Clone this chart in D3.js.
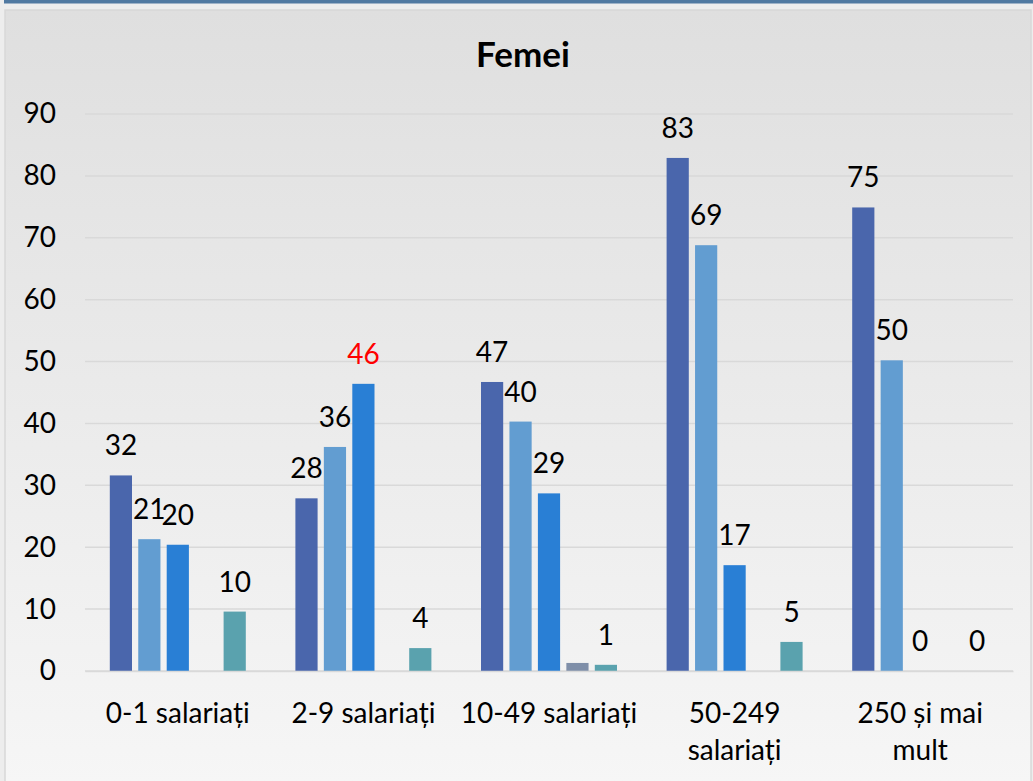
<!DOCTYPE html>
<html>
<head>
<meta charset="utf-8">
<script src="https://cdn.jsdelivr.net/npm/d3@7"></script>
<style>
  html, body { margin: 0; padding: 0; background: #ededed; }
  svg { display: block; font-family: Lato, "Open Sans", sans-serif; }
</style>
</head>
<body>
<div id="chart"></div>
<script>
// categories and series
const categories = ["0-1 salariați", "2-9 salariați", "10-49 salariați", "50-249 salariați", "250 și mai mult"];
const series1 = [31.6, 27.9, 46.7, 82.9, 74.9];
const series2 = [21.3, 36.2, 40.3, 68.8, 50.2];
const series3 = [20.4, 46.4, 28.7, 17.1, 0];
const series4 = [null, null, 1.3, null, null];
const series5 = [9.6, 3.7, 1.0, 4.7, 0];
const yTicks = [0, 10, 20, 30, 40, 50, 60, 70, 80, 90];

const seriesList = [series1, series2, series3, series4, series5];
const seriesColors = ["#4a66ac", "#629dd1", "#297fd5", "#7f8fa9", "#5aa2ae"];
const showLabels = [true, true, true, false, true];
const highlighted = { cat: 1, s: 2 }; // red label

const width = 1033, height = 781;
const margin = { top: 114, right: 20, bottom: 110, left: 85 };

const svg = d3.select("#chart").append("svg")
  .attr("width", width)
  .attr("height", height);

const defs = svg.append("defs");
const grad = defs.append("linearGradient")
  .attr("id", "bg")
  .attr("x1", 0).attr("y1", 0).attr("x2", 0).attr("y2", 1);
grad.append("stop").attr("offset", "0%").attr("stop-color", "#dfdfdf");
grad.append("stop").attr("offset", "100%").attr("stop-color", "#f6f6f6");

// background panel
svg.append("rect")
  .attr("x", 5).attr("y", 10)
  .attr("width", width - 7).attr("height", height - 8)
  .attr("fill", "url(#bg)")
  .attr("stroke", "#d8d8d8")
  .attr("stroke-width", 1.5);

svg.append("rect")
  .attr("x", 4).attr("y", 0)
  .attr("width", width - 4).attr("height", 3.5)
  .attr("fill", "#5079a1");

const x0 = d3.scaleBand()
  .domain(categories)
  .range([margin.left, width - margin.right]);

const outer = 24.8;
const x1 = d3.scaleBand()
  .domain(d3.range(seriesList.length))
  .range([outer, x0.bandwidth() - outer])
  .paddingInner(0.22);

const y = d3.scaleLinear()
  .domain([0, 90])
  .range([height - margin.bottom, margin.top]);

// gridlines
svg.append("g")
  .selectAll("line")
  .data(yTicks)
  .join("line")
  .attr("x1", margin.left)
  .attr("x2", width - margin.right)
  .attr("y1", d => y(d))
  .attr("y2", d => y(d))
  .attr("stroke", "#d9d9d9")
  .attr("stroke-width", 1.5);

// y axis labels
const yAxis = d3.axisLeft(y).tickValues(yTicks).tickSize(0).tickPadding(0);
svg.append("g")
  .attr("transform", "translate(56,0)")
  .call(yAxis)
  .call(g => g.select(".domain").remove())
  .selectAll("text")
  .attr("font-size", 28)
  .attr("font-family", "Lato, sans-serif")
  .attr("fill", "#000");

// bars
const rows = [];
categories.forEach((c, i) => {
  seriesList.forEach((s, j) => {
    if (s[i] !== null) rows.push({ cat: c, ci: i, s: j, v: s[i] });
  });
});

const groups = svg.append("g");
groups.selectAll("rect")
  .data(rows.filter(d => d.v > 0))
  .join("rect")
  .attr("x", d => x0(d.cat) + x1(d.s))
  .attr("width", x1.bandwidth())
  .attr("y", d => y(d.v))
  .attr("height", d => y(0) - y(d.v))
  .attr("fill", d => seriesColors[d.s]);

// data labels
const fmt = d3.format(".0f");
groups.selectAll("text")
  .data(rows.filter(d => showLabels[d.s]))
  .join("text")
  .attr("x", d => x0(d.cat) + x1(d.s) + x1.bandwidth() / 2)
  .attr("y", d => y(d.v) - 20)
  .attr("text-anchor", "middle")
  .attr("font-size", 28)
  .attr("fill", d => (d.ci === highlighted.cat && d.s === highlighted.s) ? "#ff0000" : "#000")
  .text(d => fmt(d.v));

// x axis
const xAxis = d3.axisBottom(x0).tickSize(0).tickPadding(0);
const xg = svg.append("g")
  .attr("transform", `translate(0,${y(0)})`)
  .call(xAxis);
xg.select(".domain").attr("stroke", "#d9d9d9").attr("stroke-width", 1.5);
xg.selectAll("text")
  .attr("font-size", 28)
  .attr("font-family", "Lato, sans-serif")
  .attr("fill", "#000")
  .attr("y", 52)
  .attr("dy", 0)
  .each(function () { wrap(d3.select(this), x0.bandwidth()); });

function wrap(text, w) {
  const words = text.text().split(/\s+/);
  const yy = text.attr("y");
  text.text(null);
  let line = [];
  let lineNo = 0;
  let tspan = text.append("tspan").attr("x", 0).attr("y", yy);
  words.forEach(word => {
    line.push(word);
    tspan.text(line.join(" "));
    if (tspan.node().getComputedTextLength() > w - 6 && line.length > 1) {
      line.pop();
      tspan.text(line.join(" "));
      line = [word];
      lineNo++;
      tspan = text.append("tspan").attr("x", 0).attr("y", +yy + lineNo * 37).text(word);
    }
  });
}

// title
svg.append("text")
  .attr("x", 523)
  .attr("y", 67)
  .attr("text-anchor", "middle")
  .attr("font-size", 35)
  .attr("font-weight", "bold")
  .attr("fill", "#000")
  .text("Femei");
</script>
</body>
</html>
